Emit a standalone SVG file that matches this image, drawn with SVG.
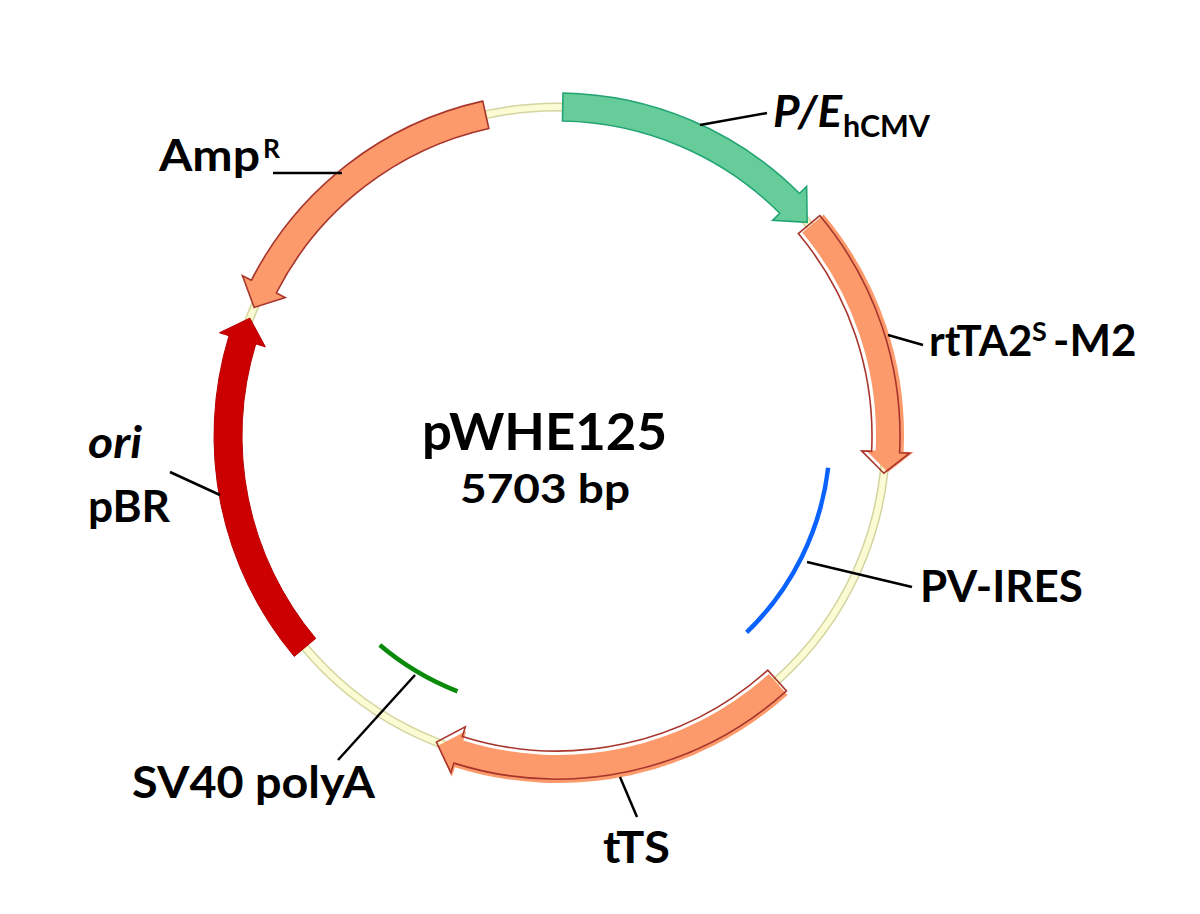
<svg xmlns="http://www.w3.org/2000/svg" width="1200" height="914" viewBox="0 0 1200 914">
<style>
.lbl{font-family:Lato,"Liberation Sans",Arial,sans-serif;font-weight:700;font-size:44px;fill:#000}
.sup{font-size:27px}
.sub{font-size:30px}
.lead{stroke:#000;stroke-width:2.5;fill:none}
.orfill{fill:#fc9a6b;stroke:none}
.orline{fill:none;stroke:#a8352c;stroke-width:1.6}
</style>
<rect width="1200" height="914" fill="#fff"/>
<g id="backbone">
<circle cx="557" cy="436" r="329" fill="none" stroke="#d4d4a0" stroke-width="9"/>
<circle cx="557" cy="436" r="329" fill="none" stroke="#fbfbd4" stroke-width="6"/>
</g>
<g id="PE_hCMV">
<path d="M562.99,93.05 A343,343 0 0 1 799.54,193.46 L806.61,186.39 L807.17,222.33 L772.67,220.33 L779.74,213.26 A315,315 0 0 0 562.5,121.05 Z" fill="#66cc99" stroke="#23a474" stroke-width="1.6"/>
<text class="lbl" x="773" y="127" font-style="italic" textLength="69" lengthAdjust="spacingAndGlyphs">P/E</text>
<text class="lbl sub" x="843" y="137" textLength="87" lengthAdjust="spacingAndGlyphs">hCMV</text>
</g>
<g id="rtTA2S_M2">
<path class="orfill" transform="translate(4,-1)" d="M819.75,215.52 A343,343 0 0 1 899.59,452.76 L909.58,453.24 L883.88,473.24 L861.64,450.9 L871.63,451.39 A315,315 0 0 0 798.3,233.52 Z"/>
<path class="orline" d="M819.75,215.52 A343,343 0 0 1 899.59,452.76 L909.58,453.24 L883.88,473.24 L861.64,450.9 L871.63,451.39 A315,315 0 0 0 798.3,233.52 Z"/>
<text class="lbl" x="929" y="356" style="font-size:42px">rtTA2<tspan class="sup" x="1032" y="341">S</tspan><tspan x="1053" y="356" style="font-size:44px">-M2</tspan></text>
</g>
<g id="PV_IRES">
<path d="M828.14,467.85 A273,273 0 0 1 746.64,632.38" fill="none" stroke="#0a62ff" stroke-width="4.5"/>
<text class="lbl" x="920" y="602" textLength="163" lengthAdjust="spacingAndGlyphs">PV-IRES</text>
</g>
<g id="tTS">
<path class="orfill" transform="translate(1,4)" d="M786.51,690.9 A343,343 0 0 1 453.86,763.13 L450.85,772.66 L436.42,742.11 L465.28,726.88 L462.28,736.42 A315,315 0 0 0 767.78,670.09 Z"/>
<path class="orline" d="M786.51,690.9 A343,343 0 0 1 453.86,763.13 L450.85,772.66 L436.42,742.11 L465.28,726.88 L462.28,736.42 A315,315 0 0 0 767.78,670.09 Z"/>
<text class="lbl" x="603" y="863" textLength="67" lengthAdjust="spacingAndGlyphs">tTS</text>
</g>
<g id="SV40_polyA">
<path d="M457.47,691.28 A274,274 0 0 1 379.78,644.97" fill="none" stroke="#0a8a0a" stroke-width="4.5"/>
<text class="lbl" x="132" y="798" textLength="243" lengthAdjust="spacingAndGlyphs">SV40 polyA</text>
</g>
<g id="ori_pBR">
<path d="M294.25,656.48 A343,343 0 0 1 228.99,335.72 L219.43,332.79 L249.85,318.1 L265.33,346.83 L255.77,343.9 A315,315 0 0 0 315.7,638.48 Z" fill="#cc0000" stroke="#b80000" stroke-width="1"/>
<text class="lbl" x="88" y="458" font-style="italic" textLength="54" lengthAdjust="spacingAndGlyphs">ori</text>
<text class="lbl" x="88" y="522" textLength="82" lengthAdjust="spacingAndGlyphs">pBR</text>
</g>
<g id="AmpR">
<path d="M482.76,101.13 A343,343 0 0 0 251.38,280.28 L242.47,275.74 L254.16,307.45 L285.24,297.53 L276.33,292.99 A315,315 0 0 1 488.82,128.47 Z" fill="#fc9a6b" stroke="#a8352c" stroke-width="1.6"/>
<text class="lbl" x="159" y="171" textLength="101" lengthAdjust="spacingAndGlyphs">Amp</text>
<text class="lbl sup" x="263" y="158" textLength="17" lengthAdjust="spacingAndGlyphs">R</text>
</g>
<g id="connectors">
<line class="lead" x1="700" y1="125" x2="767" y2="113"/>
<line class="lead" x1="273" y1="173" x2="342" y2="173"/>
<line class="lead" x1="888" y1="335" x2="923" y2="345"/>
<line class="lead" x1="807" y1="562" x2="912" y2="587"/>
<line class="lead" x1="620" y1="777" x2="637" y2="817"/>
<line class="lead" x1="170" y1="472" x2="220" y2="495"/>
<line class="lead" x1="338" y1="760" x2="415" y2="675" stroke-width="1.6"/>
</g>
<g id="title">
<text class="lbl" x="422" y="450" style="font-size:51px" textLength="245" lengthAdjust="spacingAndGlyphs">pWHE125</text>
<text class="lbl" x="460" y="503" style="font-size:40px" textLength="170" lengthAdjust="spacingAndGlyphs">5703 bp</text>
</g>
</svg>
